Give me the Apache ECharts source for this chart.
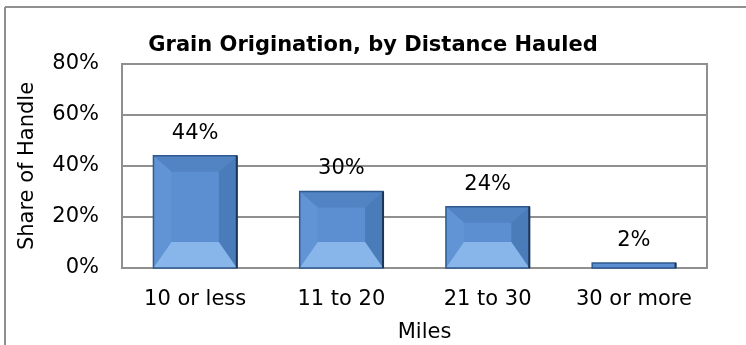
<!DOCTYPE html>
<html>
<head>
<meta charset="utf-8">
<script src="https://cdn.jsdelivr.net/npm/echarts@6/dist/echarts.min.js"></script>
<style>
  html, body { margin: 0; padding: 0; background: #fff; }
  #chart { width: 746px; height: 345px; }
</style>
</head>
<body>
<div id="chart"></div>
<script>
const categories = ['10 or less', '11 to 20', '21 to 30', '30 or more']
const shares = [44, 30, 24, 2]
const yTicks = [0, 20, 40, 60, 80]

const FONT = 'DejaVu Sans'
const GRID_GRAY = '#8f8f8f'

// bevelled bar, like the office "angle" bevel
function renderBar(params, api) {
  const idx = api.value(0)
  const v = api.value(1)
  const top = api.coord([idx, v])
  const base = api.coord([idx, 0])
  const w = api.size([1, 0])[0] * 0.57
  const x0 = top[0] - w / 2
  const x1 = top[0] + w / 2
  const y0 = top[1]
  const y1 = base[1]
  const h = y1 - y0
  const ix = Math.min(18, w / 2)
  const it = Math.min(16, h * 0.3)
  const ib = Math.min(26, h * 0.45)

  const poly = (pts, fill) => ({ type: 'polygon', shape: { points: pts }, style: { fill: fill } })
  const children = [
    { type: 'rect', shape: { x: x0, y: y0, width: w, height: h }, style: { fill: '#5b8fd1' } }
  ]
  if (h > 8) {
    children.push(
      poly([[x0, y0], [x1, y0], [x1 - ix, y0 + it], [x0 + ix, y0 + it]], '#5283c3'),
      poly([[x0, y0], [x0 + ix, y0 + it], [x0 + ix, y1 - ib], [x0, y1]], '#6194d5'),
      poly([[x1, y0], [x1 - ix, y0 + it], [x1 - ix, y1 - ib], [x1, y1]], '#4b7cba'),
      poly([[x0, y1], [x1, y1], [x1 - ix, y1 - ib], [x0 + ix, y1 - ib]], '#89b6ea')
    )
  }
  children.push(
    { type: 'rect', shape: { x: x0, y: y0, width: w, height: h },
      style: { fill: null, stroke: '#2f5a8f', lineWidth: 1.5 } },
    { type: 'line', shape: { x1: x1, y1: y0, x2: x1, y2: y1 },
      style: { stroke: '#1d3657', lineWidth: 2 } },
    { type: 'text', x: top[0], y: y0 - 12,
      style: { text: v + '%', fill: '#000', font: '21px ' + FONT, align: 'center', verticalAlign: 'bottom' } }
  )
  return { type: 'group', children: children }
}

const chart = echarts.init(document.getElementById('chart'), null, { renderer: 'canvas' })
chart.setOption({
  animation: false,
  backgroundColor: '#fff',
  textStyle: { fontFamily: FONT },
  title: {
    text: 'Grain Origination, by Distance Hauled',
    left: 'center',
    top: 30,
    textStyle: { fontFamily: FONT, fontSize: 21, fontWeight: 'bold', color: '#000' }
  },
  graphic: [
    { type: 'line', shape: { x1: 5, y1: 7, x2: 746, y2: 7 }, style: { stroke: GRID_GRAY, lineWidth: 2 } },
    { type: 'line', shape: { x1: 5, y1: 7, x2: 5, y2: 345 }, style: { stroke: GRID_GRAY, lineWidth: 2 } }
  ],
  grid: {
    left: 122,
    right: 39,
    top: 64,
    bottom: 77,
    outerBoundsMode: 'none',
    show: true,
    borderColor: GRID_GRAY,
    borderWidth: 2
  },
  xAxis: {
    type: 'category',
    data: categories,
    name: 'Miles',
    nameLocation: 'middle',
    nameGap: 54,
    nameTextStyle: { fontFamily: FONT, fontSize: 21, color: '#000', padding: [0, 0, 0, 20] },
    axisLine: { lineStyle: { color: GRID_GRAY, width: 2 } },
    axisTick: { show: false },
    axisLabel: { fontFamily: FONT, fontSize: 21, color: '#000', margin: 21, interval: 0 }
  },
  yAxis: {
    type: 'value',
    min: yTicks[0],
    max: yTicks[yTicks.length - 1],
    interval: yTicks[1] - yTicks[0],
    name: 'Share of Handle',
    nameLocation: 'middle',
    nameGap: 84,
    nameTextStyle: { fontFamily: FONT, fontSize: 21, color: '#000' },
    axisLine: { show: false },
    axisTick: { show: false },
    axisLabel: { fontFamily: FONT, fontSize: 21, color: '#000', margin: 23, formatter: '{value}%' },
    splitLine: { lineStyle: { color: GRID_GRAY, width: 2 } }
  },
  series: [{
    type: 'custom',
    renderItem: renderBar,
    encode: { x: 0, y: 1 },
    data: shares.map((s, i) => [i, s])
  }]
})
</script>
</body>
</html>
